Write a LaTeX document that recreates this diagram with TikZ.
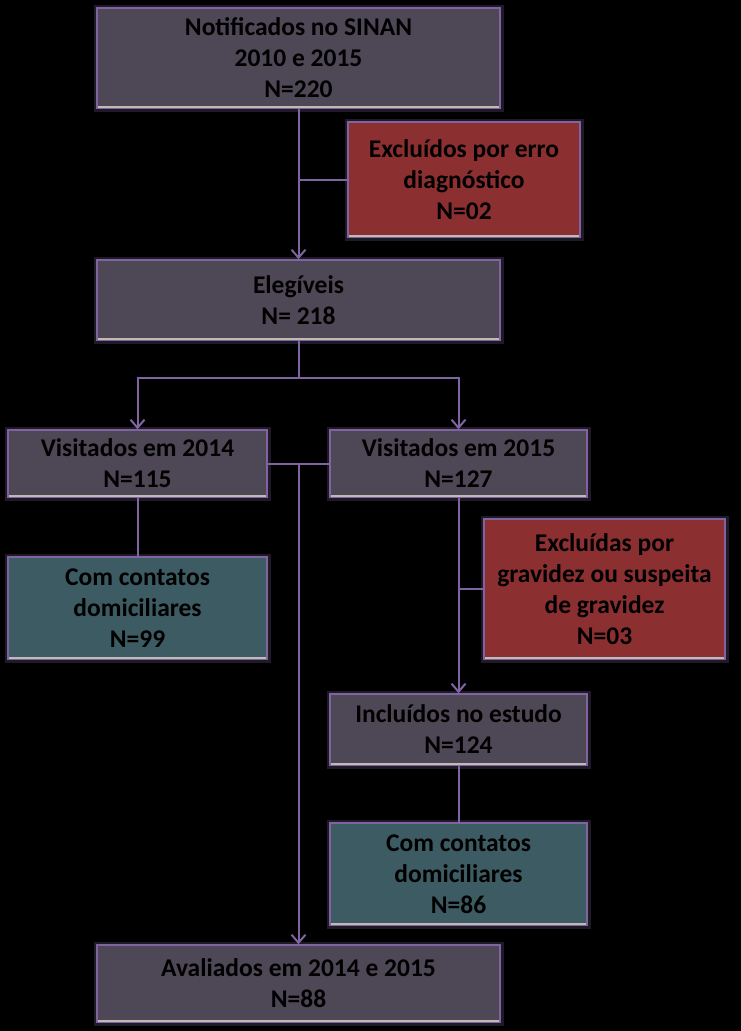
\documentclass[tikz,border=0pt]{standalone}
\usepackage{fontspec}
\setmainfont{Carlito}
\usepackage{tikz}
\usetikzlibrary{calc}
\usetikzlibrary{positioning}
\usetikzlibrary{arrows.meta}

\definecolor{linepurple}{RGB}{128,100,162}
\definecolor{boxgray}{RGB}{78,71,86}
\definecolor{boxred}{RGB}{140,47,48}
\definecolor{boxteal}{RGB}{61,91,99}
\definecolor{bevelgray}{RGB}{190,186,180}

\tikzset{
  flowbox/.style={draw=linepurple, line width=1.6, inner sep=0pt, align=center,
    preaction={draw=linepurple, line width=7, opacity=0.25},
    font=\fontsize{25.5}{31}\selectfont\bfseries, text=black},
  graybox/.style={flowbox, fill=boxgray},
  redbox/.style={flowbox, fill=boxred},
  tealbox/.style={flowbox, fill=boxteal},
  link/.style={draw=linepurple, line width=2},
  arr/.style={link, -{Straight Barb[length=8pt,width=14pt]}},
  bevel/.style={draw=bevelgray, line width=2.5}
}

\begin{document}
\begin{tikzpicture}[x=1pt,y=1pt,yscale=-1,xscale=1]
  %Background
  \fill[black] (0,0) rectangle (741,1031);
  \useasboundingbox (0,0) rectangle (741,1031);

  %Shape: Rectangle [notif]
  \node[graybox, minimum width=403, minimum height=100] (notif) at (298.5,58) {Notificados no SINAN\\2010 e 2015\\N=220};
  %Shape: Rectangle [excl]
  \node[redbox, minimum width=232, minimum height=115] (excl) at (464,179.5) {Excluídos por erro\\diagnóstico\\N=02};
  %Shape: Rectangle [eleg]
  \node[graybox, minimum width=403, minimum height=80] (eleg) at (298.5,300) {Elegíveis\\N= 218};
  %Shape: Rectangle [vis14]
  \node[graybox, minimum width=259, minimum height=67] (vis14) at (137.5,463.5) {Visitados em 2014\\N=115};
  %Shape: Rectangle [vis15]
  \node[graybox, minimum width=257, minimum height=67] (vis15) at (458.5,463.5) {Visitados em 2015\\N=127};
  %Shape: Rectangle [cont99]
  \node[tealbox, minimum width=259, minimum height=102] (cont99) at (137.5,608) {Com contatos\\domiciliares\\N=99};
  %Shape: Rectangle [gravid]
  \node[redbox, minimum width=241, minimum height=140] (gravid) at (604.5,589) {Excluídas por\\gravidez ou suspeita\\de gravidez\\N=03};
  %Shape: Rectangle [incl]
  \node[graybox, minimum width=257, minimum height=71] (incl) at (458.5,729.5) {Incluídos no estudo\\N=124};
  %Shape: Rectangle [cont86]
  \node[tealbox, minimum width=257, minimum height=102] (cont86) at (458.5,874) {Com contatos\\domiciliares\\N=86};
  %Shape: Rectangle [aval]
  \node[graybox, minimum width=403, minimum height=77] (aval) at (298.5,983.5) {Avaliados em 2014 e 2015\\N=88};

  %Bevel edges
  \foreach \b in {notif,excl,eleg,vis14,vis15,cont99,gravid,incl,cont86,aval}
    \draw[bevel] ($(\b.south west)+(2,-2)$) -- ($(\b.south east)+(-2,-2)$);

  %Straight Lines
  \draw[arr] (notif) -- (eleg);
  \draw[link] (excl.west) -- (excl.west -| notif.south);
  \coordinate (fork) at (298.5,378);
  \draw[link] (eleg) -- (fork);
  \draw[arr] (fork) -| (vis14);
  \draw[arr] (fork) -| (vis15);
  \draw[link] (vis14.east) -- (vis15.west);
  \draw[arr] (vis14.east -| aval.north) -- (aval.north);
  \draw[link] (vis14) -- (cont99);
  \draw[arr] (vis15) -- (incl);
  \draw[link] (gravid.west) -- (gravid.west -| incl.north);
  \draw[link] (incl) -- (cont86);
\end{tikzpicture}
\end{document}
